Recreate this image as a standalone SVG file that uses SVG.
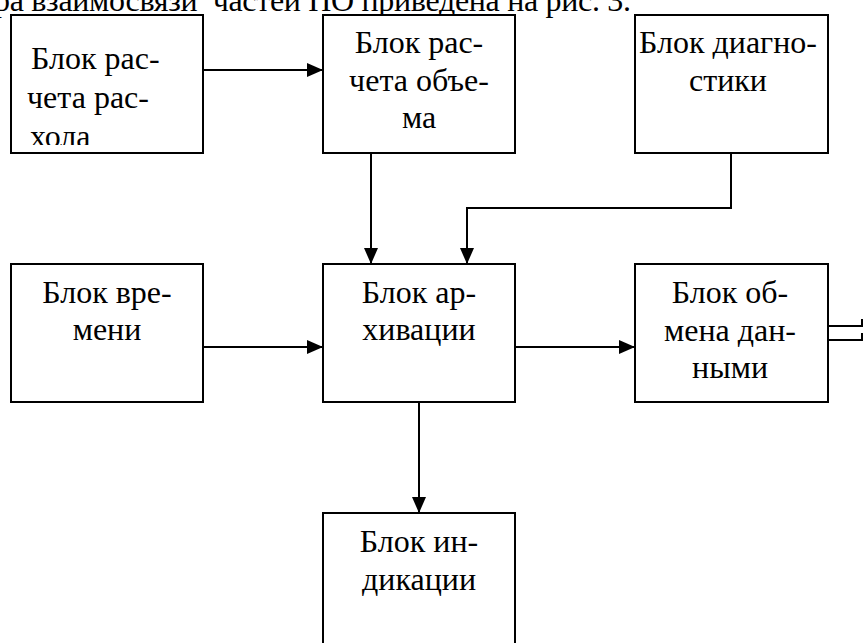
<svg xmlns="http://www.w3.org/2000/svg" width="865" height="643" viewBox="0 0 865 643">
<style>
.box{fill:#fff;stroke:#000;stroke-width:2}
.t{font-size:32px;fill:#000}
.m{text-anchor:middle}
.ln{fill:none;stroke:#000;stroke-width:2}
</style>
<defs>
<marker id="ah" markerWidth="16" markerHeight="14" refX="16" refY="7" orient="auto" markerUnits="userSpaceOnUse">
<path d="M0,0 L16,7 L0,14 Z" fill="#000"/>
</marker>
<clipPath id="c1"><rect x="0" y="0" width="865" height="145"/></clipPath>
</defs>
<rect width="865" height="643" fill="#fff"/>
<g font-family="'Liberation Serif', 'DejaVu Serif', serif">
<text class="t" x="-6" y="11" textLength="637" lengthAdjust="spacing" style="white-space:pre">ра взаимосвязи  частей ПО приведена на рис. 3.</text>
<g id="connectors">
<line class="ln" x1="203" y1="70" x2="323" y2="70" marker-end="url(#ah)"/>
<line class="ln" x1="371" y1="153" x2="371" y2="264" marker-end="url(#ah)"/>
<polyline class="ln" points="731,153 731,208 467,208 467,264" marker-end="url(#ah)"/>
<line class="ln" x1="203" y1="347" x2="323" y2="347" marker-end="url(#ah)"/>
<line class="ln" x1="515" y1="347" x2="635" y2="347" marker-end="url(#ah)"/>
<line class="ln" x1="419" y1="402" x2="419" y2="513" marker-end="url(#ah)"/>
<polyline class="ln" points="828,326 862,326 862,319"/>
<polyline class="ln" points="828,340 862,340 862,333"/>
</g>
<g id="n1">
<rect class="box" x="11" y="15" width="192" height="138"/>
<text class="t" x="31" y="69">Блок рас-</text>
<text class="t" x="27" y="108">чета рас-</text>
<text class="t" x="30" y="147" clip-path="url(#c1)">хола</text>
</g>
<g id="n2">
<rect class="box" x="323" y="15" width="192" height="138"/>
<text class="t m" x="419" y="53">Блок рас-</text>
<text class="t m" x="419" y="91">чета объе-</text>
<text class="t m" x="419" y="128">ма</text>
</g>
<g id="n3">
<rect class="box" x="635" y="15" width="193" height="138"/>
<text class="t m" x="728" y="53">Блок диагно-</text>
<text class="t m" x="728" y="91">стики</text>
</g>
<g id="n4">
<rect class="box" x="11" y="264" width="192" height="138"/>
<text class="t m" x="107" y="303">Блок вре-</text>
<text class="t m" x="107" y="340">мени</text>
</g>
<g id="n5">
<rect class="box" x="323" y="264" width="192" height="138"/>
<text class="t m" x="419" y="303">Блок ар-</text>
<text class="t m" x="419" y="340">хивации</text>
</g>
<g id="n6">
<rect class="box" x="635" y="264" width="193" height="138"/>
<text class="t m" x="730" y="303">Блок об-</text>
<text class="t m" x="730" y="341">мена дан-</text>
<text class="t m" x="730" y="378">ными</text>
</g>
<g id="n7">
<rect class="box" x="323" y="513" width="192" height="140"/>
<text class="t m" x="419" y="552">Блок ин-</text>
<text class="t m" x="419" y="590">дикации</text>
</g>
</g>
</svg>
